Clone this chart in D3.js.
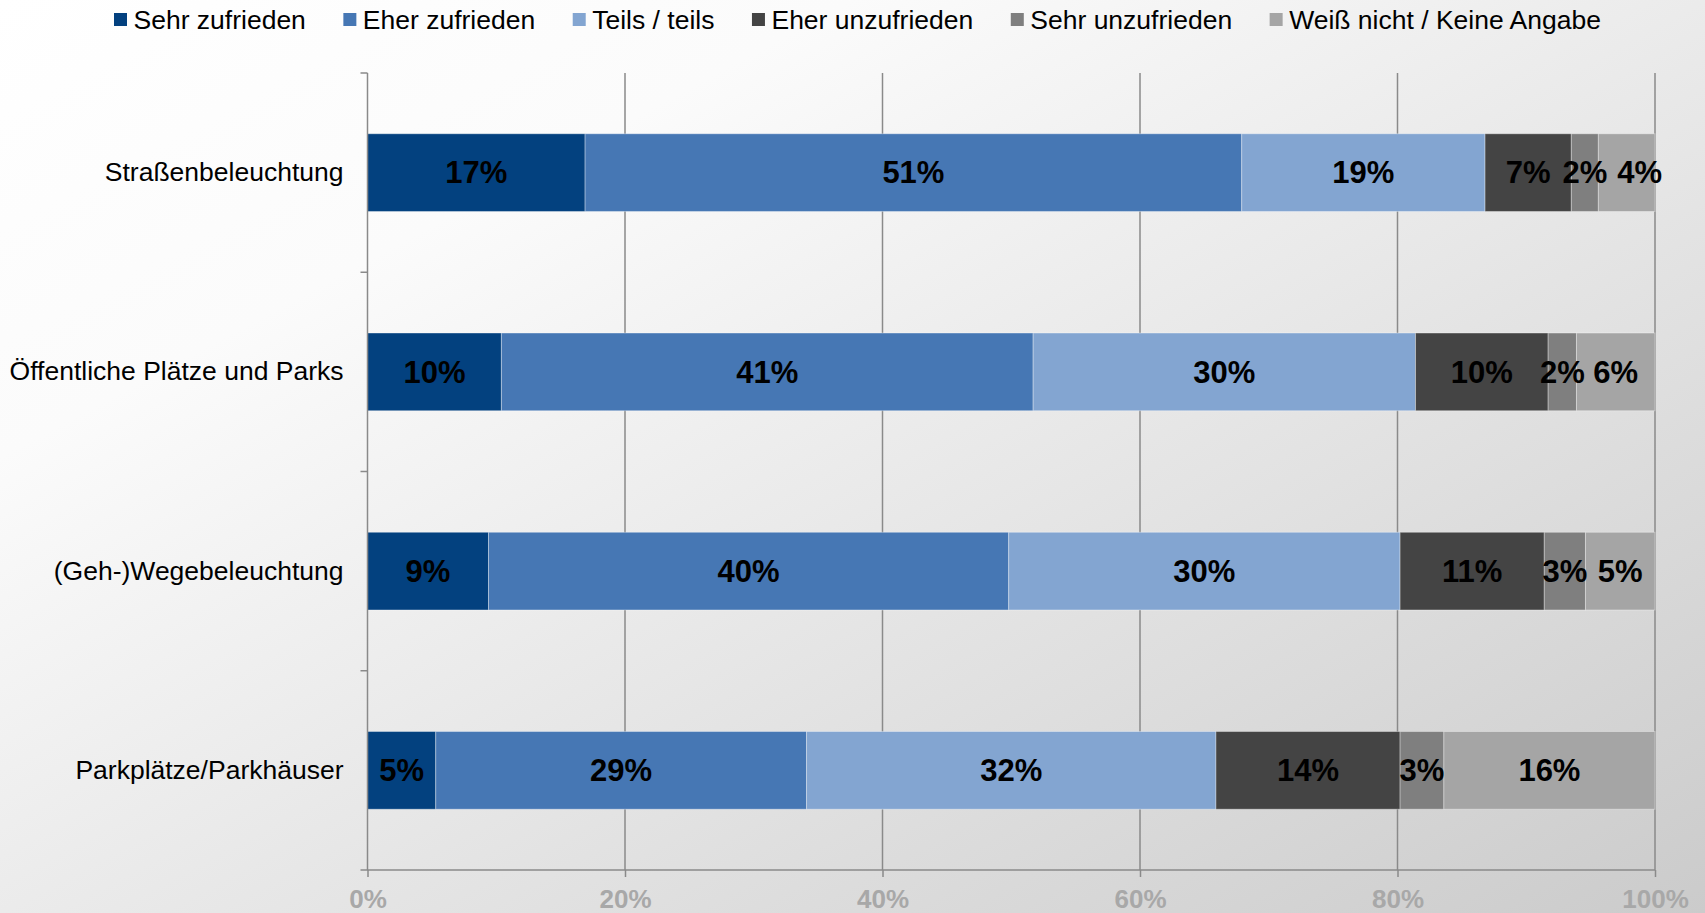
<!DOCTYPE html>
<html>
<head>
<meta charset="utf-8">
<script src="https://cdn.jsdelivr.net/npm/d3@7"></script>
<style>
  html, body { margin: 0; padding: 0; overflow: hidden; }
  body { width: 1705px; height: 913px; }
  text { font-family: "Liberation Sans", Arial, sans-serif; }
</style>
</head>
<body>
<svg id="chart" width="1705" height="913"></svg>
<script>
const categories = ["Straßenbeleuchtung", "Öffentliche Plätze und Parks", "(Geh-)Wegebeleuchtung", "Parkplätze/Parkhäuser"];
const seriesNames = ["Sehr zufrieden", "Eher zufrieden", "Teils / teils", "Eher unzufrieden", "Sehr unzufrieden", "Weiß nicht / Keine Angabe"];
const sehrZufrieden   = [16.9, 10.4,  9.4,  5.3];
const eherZufrieden   = [51.0, 41.3, 40.4, 28.8];
const teilsTeils      = [18.9, 29.7, 30.4, 31.8];
const eherUnzufrieden = [ 6.7, 10.3, 11.2, 14.3];
const sehrUnzufrieden = [ 2.1,  2.2,  3.2,  3.4];
const weissNicht      = [ 4.4,  6.1,  5.4, 16.4];
const xTicks = [0, 20, 40, 60, 80, 100];
const colors = ["#03417f", "#4677b4", "#83a5d1", "#444444", "#7f7f7f", "#a5a5a5"];

(function () {
const seriesValues = [sehrZufrieden, eherZufrieden, teilsTeils, eherUnzufrieden, sehrUnzufrieden, weissNicht];
const table = categories.map((c, i) => {
  const row = { category: c };
  seriesNames.forEach((s, j) => row[s] = seriesValues[j][i]);
  return row;
});

const svg = d3.select("#chart");

// background gradient
const defs = svg.append("defs");
const grad = defs.append("linearGradient").attr("id", "bg")
  .attr("x1", "0").attr("y1", "0").attr("x2", "1").attr("y2", "1");
grad.append("stop").attr("offset", "0").attr("stop-color", "#ffffff");
grad.append("stop").attr("offset", "0.25").attr("stop-color", "#fbfbfb");
grad.append("stop").attr("offset", "1").attr("stop-color", "#cbcbcb");
svg.append("rect").attr("width", 1705).attr("height", 913).attr("fill", "url(#bg)");

const pLeft = 367.5, pRight = 1655, pTop = 73, pBottom = 870;
const x = d3.scaleLinear().domain([0, 100]).range([pLeft, pRight]);
const y = d3.scaleBand().domain(categories).range([pTop, pBottom]).paddingInner(0.61).paddingOuter(0.305);

const axisColor = "#8a8a8a";

// vertical gridlines
svg.append("g").selectAll("line").data(xTicks.filter(d => d > 0)).join("line")
  .attr("x1", d => x(d)).attr("x2", d => x(d))
  .attr("y1", pTop).attr("y2", pBottom)
  .attr("stroke", axisColor).attr("stroke-width", 1.5);

// stacked bars
const stack = d3.stack().keys(seriesNames);
const stacked = stack(table);

const barG = svg.append("g");
stacked.forEach((layer, j) => {
  barG.append("g").selectAll("rect").data(layer).join("rect")
    .attr("x", d => x(d[0]))
    .attr("width", d => x(d[1]) - x(d[0]))
    .attr("y", d => y(d.data.category))
    .attr("height", y.bandwidth())
    .attr("fill", colors[j])
    .attr("stroke", "#ffffff").attr("stroke-opacity", 0.35).attr("stroke-width", 1);
});

// bottom axis
const xAxis = d3.axisBottom(x).tickValues(xTicks).tickFormat(d => d + "%").tickSize(7).tickSizeOuter(0);
const gx = svg.append("g").attr("transform", `translate(0,${pBottom})`).call(xAxis);
gx.select(".domain").remove();
gx.selectAll(".tick line").attr("stroke", axisColor).attr("stroke-width", 1.5);
gx.selectAll(".tick text")
  .attr("y", 38).attr("dy", 0)
  .attr("fill", "#a8a8a8")
  .style("font-family", "'Liberation Sans', Arial, sans-serif")
  .style("font-size", "26px").style("font-weight", "bold");
svg.append("line").attr("x1", pLeft - 7).attr("x2", pRight).attr("y1", pBottom).attr("y2", pBottom)
  .attr("stroke", axisColor).attr("stroke-width", 1.5);

// left axis
const yAxis = d3.axisLeft(y).tickSize(0).tickPadding(24);
const gy = svg.append("g").attr("transform", `translate(${pLeft},0)`).call(yAxis);
gy.select(".domain").remove();
gy.selectAll(".tick text")
  .attr("fill", "#000")
  .style("font-family", "'Liberation Sans', Arial, sans-serif")
  .style("font-size", "26.5px");
svg.append("line").attr("x1", pLeft).attr("x2", pLeft).attr("y1", pTop).attr("y2", pBottom)
  .attr("stroke", axisColor).attr("stroke-width", 1.5);
// boundary ticks
const boundaries = d3.range(categories.length).map(i => pTop + i * y.step());
svg.append("g").selectAll("line").data(boundaries).join("line")
  .attr("x1", pLeft - 7).attr("x2", pLeft)
  .attr("y1", d => d).attr("y2", d => d)
  .attr("stroke", axisColor).attr("stroke-width", 1.5);

// data labels
const labelG = svg.append("g");
categories.forEach((c, i) => {
  let prevEnd = -Infinity;
  stacked.forEach(layer => {
    const d = layer[i];
    const cx = (x(d[0]) + x(d[1])) / 2;
    const t = labelG.append("text")
      .attr("x", cx)
      .attr("y", y(c) + y.bandwidth() / 2)
      .attr("dy", "0.35em")
      .attr("text-anchor", "middle")
      .style("font-size", "31px").style("font-weight", "bold")
      .attr("fill", "#000")
      .text(Math.round(d[1] - d[0]) + "%");
    const w = t.node().getComputedTextLength();
    let start = cx - w / 2;
    if (start < prevEnd) {
      start = prevEnd + 10;
      t.attr("x", start + w / 2);
    }
    prevEnd = start + w;
  });
});

// legend
const legend = svg.append("g");
let lx = 114;
seriesNames.forEach((s, j) => {
  legend.append("rect").attr("x", lx).attr("y", 13).attr("width", 13).attr("height", 13).attr("fill", colors[j]);
  const t = legend.append("text").attr("x", lx + 19.5).attr("y", 19.5).attr("dy", "0.35em")
    .style("font-size", "26.5px").attr("fill", "#000").text(s);
  lx += 19.5 + t.node().getComputedTextLength() + 37.5;
});
})();
</script>
</body>
</html>
